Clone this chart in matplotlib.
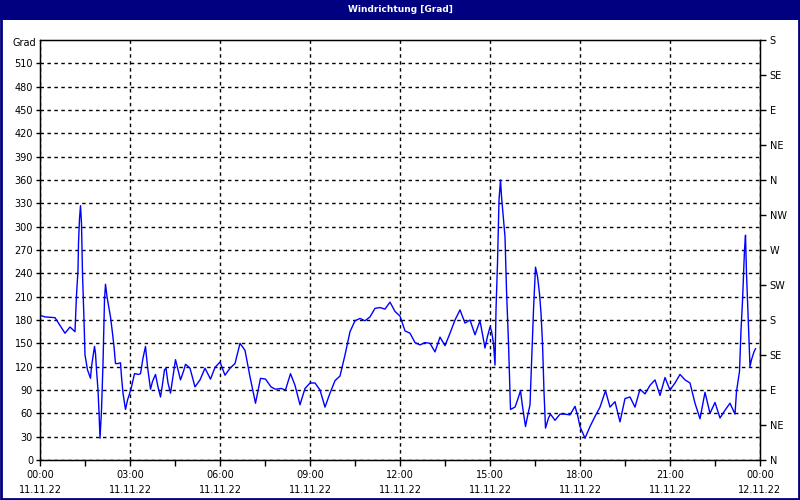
import matplotlib
matplotlib.use("Agg")
import matplotlib.pyplot as plt
from matplotlib.patches import Rectangle

# minutes since 11.11.22 00:00, wind direction in degrees
minutes = [
    0, 10, 30, 50, 60, 70, 73, 76, 77, 79, 81, 83, 85, 88, 90, 95, 101, 103, 106, 109,
    111, 113, 116, 118, 120, 123, 126, 129, 131, 134, 141, 145, 148, 151, 156, 161, 163,
    166, 171, 175, 179, 183, 189, 197, 201, 206, 211, 215, 221, 225, 231, 236, 241, 244,
    249, 252, 256, 261, 265, 271, 276, 281, 287, 291, 295, 300, 310, 320, 330, 341, 350,
    360, 370, 380, 390, 400, 410, 420, 431, 441, 451, 462, 471, 482, 491, 501, 510, 520,
    530, 540, 550, 560, 570, 580, 590, 600, 610, 620, 630, 640, 650, 660, 670, 680, 690,
    700, 710, 720, 730, 740, 750, 760, 770, 780, 790, 800, 810, 820, 830, 840, 850, 860,
    870, 880, 890, 895, 900, 903, 907, 910, 912, 915, 918, 921, 923, 927, 930, 933, 937,
    940, 941, 950, 955, 961, 965, 971, 975, 980, 983, 987, 991, 995, 999, 1002, 1005,
    1008, 1011, 1017, 1021, 1030, 1040, 1050, 1060, 1070, 1075, 1080, 1090, 1100, 1110,
    1120, 1131, 1140, 1150, 1160, 1170, 1180, 1190, 1200, 1210, 1220, 1230, 1240, 1250,
    1260, 1270, 1280, 1290, 1300, 1310, 1320, 1330, 1340, 1350, 1360, 1370, 1380, 1390,
    1393, 1399, 1402, 1405, 1409, 1411, 1413, 1417, 1420, 1423, 1428, 1431,
]
direction = [
    186, 184, 183, 163, 171, 165, 212, 244, 279, 310, 327, 304, 240, 180, 135, 116, 105,
    120, 133, 146, 137, 116, 90, 62, 28, 64, 124, 206, 226, 210, 184, 163, 146, 124, 124,
    125, 107, 86, 65, 77, 85, 94, 111, 110, 111, 131, 146, 120, 91, 101, 110, 94, 81, 93,
    116, 118, 99, 86, 103, 129, 116, 103, 114, 123, 121, 118, 94, 103, 118, 104, 119, 126,
    109, 118, 124, 150, 141, 107, 73, 105, 104, 94, 91, 92, 90, 111, 96, 71, 92, 99, 99,
    90, 68, 86, 102, 108, 135, 165, 179, 182, 179, 184, 195, 196, 194, 203, 191, 185, 166,
    163, 151, 148, 151, 150, 139, 158, 147, 163, 180, 193, 176, 180, 161, 179, 144, 159,
    171, 166, 150, 122, 193, 253, 334, 360, 339, 309, 287, 219, 150, 88, 65, 68, 77, 89,
    69, 43, 56, 71, 124, 193, 248, 236, 214, 189, 150, 88, 41, 54, 59, 51, 59, 59, 58, 69,
    58, 43, 28, 43, 56, 68, 89, 68, 75, 49, 79, 81, 68, 91, 85, 96, 103, 83, 106, 90, 99,
    110, 103, 99, 73, 53, 87, 60, 74, 54, 64, 73, 59, 88, 114, 167, 204, 270, 289, 240,
    171, 120, 129, 139, 143,
]

left_ticks = list(range(0, 540, 30))
compass_ticks = list(range(0, 541, 45))
compass_labels = ["N", "NE", "E", "SE", "S", "SW", "W", "NW", "N", "NE", "E", "SE", "S"]
hour_ticks = list(range(0, 25, 3))
hour_labels = [f"{h % 24:02d}:00\n{'12.11.22' if h == 24 else '11.11.22'}" for h in hour_ticks]

plt.rcParams["font.family"] = ["DejaVu Sans"]
fig = plt.figure(figsize=(8, 5), dpi=100)
fig.patch.set_facecolor("white")

# window frame and title bar
fig.patches.append(Rectangle((0, 0.96), 1, 0.04, transform=fig.transFigure,
                             facecolor="#000080", edgecolor="none", zorder=0))
fig.patches.append(Rectangle((0.001, 0.002), 0.998, 0.996, transform=fig.transFigure,
                             facecolor="none", edgecolor="#000080", linewidth=2, zorder=5))
fig.text(0.5, 0.98, "Windrichtung [Grad]", color="white", fontsize=6.5,
         fontweight="bold", ha="center", va="center")

ax = fig.add_axes([0.05, 0.08, 0.90, 0.84])
hours = [m / 60 for m in minutes]
ax.plot(hours, direction, color="#0000FF", linewidth=1)

ax.set_xlim(0, 24)
ax.set_ylim(0, 540)
ax.set_yticks(left_ticks)
ax.set_xticks(hour_ticks)
ax.set_xticklabels(hour_labels, fontsize=7, linespacing=1.65)
ax.set_xticks([h + 1.5 for h in range(0, 24, 3)], minor=True)
ax.tick_params(axis="y", labelsize=7, length=3, width=1, pad=2)
ax.tick_params(axis="x", which="both", length=4, width=1, pad=3)
ax.grid(True, color="black", linestyle=(0, (2.5, 2.5)), linewidth=1)
for spine in ax.spines.values():
    spine.set_linewidth(1)
ax.text(-0.006, 536, "Grad", transform=ax.get_yaxis_transform(), fontsize=7,
        ha="right", va="center")

ax2 = ax.twinx()
ax2.set_ylim(0, 540)
ax2.set_yticks(compass_ticks)
ax2.set_yticklabels(compass_labels, fontsize=7)
ax2.tick_params(axis="y", length=4, width=1, pad=3)

fig.savefig("out.png", dpi=100, facecolor="white")
